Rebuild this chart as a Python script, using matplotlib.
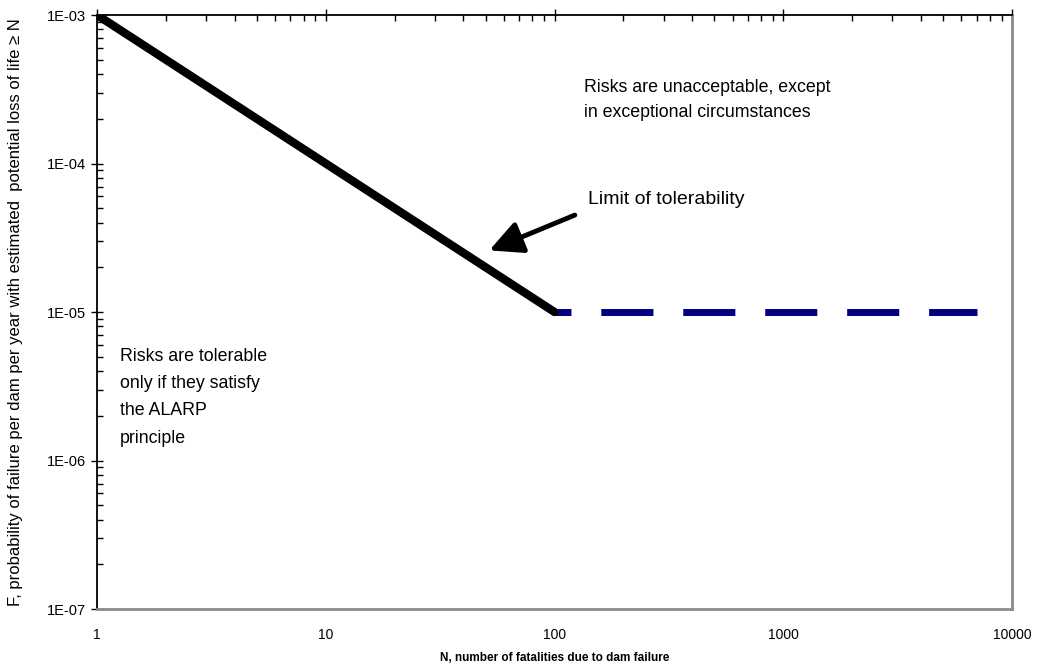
import matplotlib.pyplot as plt
from matplotlib.ticker import LogLocator, FixedLocator, NullFormatter

plt.rcParams["font.family"] = ["Liberation Sans", "DejaVu Sans"]

# limit of tolerability: sloped part and horizontal cut-off
n_slope = [1, 100]
f_slope = [1e-3, 1e-5]
n_flat = [100, 7000]
f_flat = [1e-5, 1e-5]

x_ticks = [1, 10, 100, 1000, 10000]
x_labels = ["1", "10", "100", "1000", "10000"]
y_ticks = [1e-7, 1e-6, 1e-5, 1e-4, 1e-3]
y_labels = ["1E-07", "1E-06", "1E-05", "1E-04", "1E-03"]

fig = plt.figure(figsize=(10.39, 6.68), dpi=100)
ax = fig.add_axes([0.0934, 0.0883, 0.8806, 0.8892])

ax.plot(n_flat, f_flat, color="#000080", lw=5, linestyle=(5.2, (7.5, 4.3)))
ax.plot(n_slope, f_slope, color="black", lw=6, solid_capstyle="round")

ax.set_xscale("log")
ax.set_yscale("log")
ax.set_xlim(1, 10000)
ax.set_ylim(1e-7, 1e-3)

ax.xaxis.set_major_locator(FixedLocator(x_ticks))
ax.set_xticklabels(x_labels)
ax.xaxis.set_minor_locator(LogLocator(base=10, subs=range(2, 10)))
ax.xaxis.set_minor_formatter(NullFormatter())
ax.yaxis.set_major_locator(FixedLocator(y_ticks))
ax.set_yticklabels(y_labels)
ax.yaxis.set_minor_locator(LogLocator(base=10, subs=range(2, 10)))
ax.yaxis.set_minor_formatter(NullFormatter())

ax.tick_params(axis="x", which="both", bottom=False, top=True,
               labelbottom=True, labeltop=False, labelsize=10, pad=10)
ax.tick_params(axis="x", which="major", direction="inout", length=8, width=1)
ax.tick_params(axis="x", which="minor", direction="in", length=4, width=1)
ax.tick_params(axis="y", which="major", direction="inout", length=8, width=1,
               labelsize=10.5, pad=4)
ax.tick_params(axis="y", which="minor", direction="in", length=4, width=1)

ax.spines["left"].set_color("black")
ax.spines["top"].set_color("black")
ax.spines["left"].set_linewidth(1.3)
ax.spines["top"].set_linewidth(1.3)
ax.spines["right"].set_color("#8c8c8c")
ax.spines["bottom"].set_color("#8c8c8c")
ax.spines["right"].set_linewidth(2)
ax.spines["bottom"].set_linewidth(2)

ax.set_xlabel("N, number of fatalities due to dam failure", fontsize=8.5,
              fontweight="bold")
ax.xaxis.set_label_coords(0.5, -0.072)
ax.set_ylabel("F, probability of failure per dam per year with estimated  "
              "potential loss of life \u2265 N", fontsize=12)
ax.yaxis.set_label_coords(-0.081, 0.5)

ax.text(0.532, 0.892, "Risks are unacceptable, except\nin exceptional circumstances",
        transform=ax.transAxes, fontsize=12.8, va="top", linespacing=1.62)
ax.text(0.025, 0.44, "Risks are tolerable\nonly if they satisfy\nthe ALARP\nprinciple",
        transform=ax.transAxes, fontsize=12.8, va="top", linespacing=1.8)
ax.text(0.537, 0.689, "Limit of tolerability", transform=ax.transAxes,
        fontsize=14, va="center")
ax.annotate("", xy=(0.426, 0.602), xycoords="axes fraction",
            xytext=(0.525, 0.665), textcoords="axes fraction",
            arrowprops=dict(arrowstyle="-|>,head_length=1.0,head_width=0.5",
                            mutation_scale=20, color="black", lw=3.5))

fig.savefig("out.png", dpi=100)
